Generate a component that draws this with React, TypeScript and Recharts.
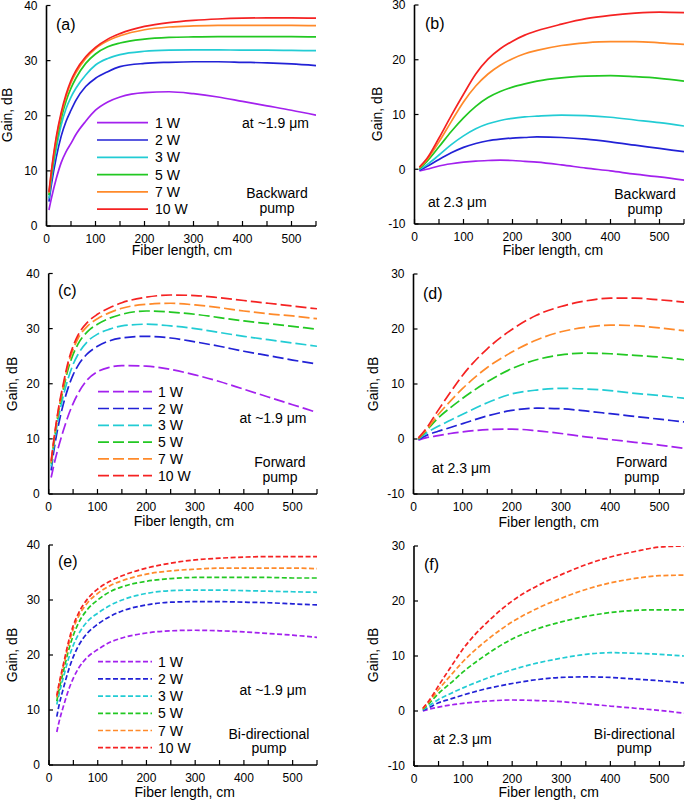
import React from 'react';
import { LineChart, Line, XAxis, YAxis, Customized } from 'recharts';

const FONT = "'Liberation Sans', Arial, sans-serif";

const seriesLabels = ['1 W', '2 W', '3 W', '5 W', '7 W', '10 W'];
const seriesColors = ['#a321ee', '#2222d6', '#22ccd4', '#22c822', '#ff8a2a', '#f52222'];
const xTicks = [0, 50, 100, 150, 200, 250, 300, 350, 400, 450, 500, 550];
const xTickLabels = [0, 100, 200, 300, 400, 500];
const gainTicksHigh = [0, 10, 20, 30, 40];
const gainTicksLow = [-10, 0, 10, 20, 30];

// (a) backward pump, ~1.9 um
const aX = [5, 10, 20, 30, 40, 50, 60, 80, 100, 125, 150, 200, 250, 300, 350, 400, 450, 500, 550];
const a1 = [2.9, 5, 8.6, 11.5, 13.5, 15, 16.6, 19, 21, 22.5, 23.4, 24.2, 24.35, 24, 23.4, 22.6, 21.8, 21, 20.1];
const a2 = [4.4, 7.5, 12.5, 16.3, 19, 21, 22.8, 25.3, 26.8, 28, 28.9, 29.5, 29.7, 29.8, 29.8, 29.7, 29.6, 29.4, 29.1];
const a3 = [5, 8.5, 14, 18.3, 21.3, 23.4, 25, 27.4, 29.2, 30.4, 31.1, 31.7, 31.9, 31.95, 31.95, 31.9, 31.9, 31.85, 31.8];
const a5 = [5.6, 9.2, 15, 19.5, 22.7, 25, 26.8, 29.5, 31.2, 32.5, 33.2, 33.9, 34.2, 34.3, 34.35, 34.35, 34.35, 34.35, 34.3];
const a7 = [6, 9.8, 15.8, 20.2, 23.5, 26, 27.8, 30.4, 32.2, 33.6, 34.5, 35.6, 36.1, 36.3, 36.4, 36.4, 36.4, 36.4, 36.35];
const a10 = [6.2, 10, 16.2, 20.6, 23.9, 26.4, 28.2, 30.7, 32.4, 33.9, 34.9, 36.2, 36.9, 37.3, 37.55, 37.7, 37.75, 37.75, 37.7];

// (b) backward pump, 2.3 um
const bX = [10, 25, 50, 75, 100, 125, 150, 175, 200, 225, 250, 300, 350, 400, 450, 500, 550];
const b1 = [-0.3, 0, 0.6, 1, 1.3, 1.5, 1.6, 1.65, 1.6, 1.45, 1.3, 0.8, 0.2, -0.3, -0.9, -1.4, -2.0];
const b2 = [-0.2, 0.5, 1.8, 3, 4, 4.7, 5.2, 5.5, 5.7, 5.8, 5.9, 5.8, 5.5, 5, 4.4, 3.8, 3.2];
const b3 = [0, 0.8, 2.6, 4.5, 6.1, 7.4, 8.3, 8.9, 9.3, 9.55, 9.7, 9.9, 9.8, 9.5, 9, 8.5, 7.9];
const b5 = [0.1, 1.4, 4.1, 6.9, 9.4, 11.5, 13.1, 14.2, 15, 15.6, 16.1, 16.7, 17, 17.1, 16.9, 16.6, 16.1];
const b7 = [0.3, 1.7, 5, 8.7, 12.3, 15.2, 17.4, 19, 20.2, 21.1, 21.7, 22.6, 23.1, 23.3, 23.3, 23.1, 22.8];
const b10 = [0.4, 1.9, 5.7, 9.8, 13.7, 17.4, 20.1, 22, 23.4, 24.5, 25.3, 26.5, 27.5, 28.1, 28.5, 28.7, 28.6];

// (c) forward pump, ~1.9 um
const cX = [5, 10, 20, 30, 40, 50, 60, 80, 100, 125, 150, 200, 250, 300, 350, 400, 450, 500, 550];
const c1 = [3, 5, 8.5, 11.5, 14.2, 16.4, 18.2, 20.8, 22.2, 23, 23.3, 23.2, 22.6, 21.6, 20.4, 19, 17.6, 16.2, 14.8];
const c2 = [4.3, 7.5, 12.5, 16.3, 19.3, 21.6, 23.3, 25.5, 26.8, 27.8, 28.3, 28.6, 28.3, 27.6, 26.8, 25.9, 25.1, 24.3, 23.6];
const c3 = [5, 8.5, 13.8, 17.8, 21, 23.5, 25.3, 27.7, 29, 29.9, 30.5, 30.8, 30.5, 30, 29.3, 28.6, 28, 27.4, 26.8];
const c5 = [5.5, 9, 14.8, 19, 22.7, 25.3, 27.2, 29.5, 30.8, 31.9, 32.6, 33.2, 33, 32.6, 32, 31.4, 30.9, 30.4, 29.9];
const c7 = [5.7, 9.3, 15.2, 19.6, 23.5, 26.2, 28.2, 30.5, 31.8, 32.9, 33.7, 34.4, 34.6, 34.3, 33.8, 33.2, 32.7, 32.3, 31.8];
const c10 = [6, 9.5, 15.5, 20, 24, 26.8, 28.8, 31.2, 32.6, 33.8, 34.7, 35.7, 36.1, 36, 35.6, 35.1, 34.6, 34.1, 33.6];

// (d) forward pump, 2.3 um
const dX = [10, 25, 50, 75, 100, 150, 200, 250, 300, 350, 400, 450, 500, 550];
const d1 = [-0.2, 0.2, 0.6, 1, 1.3, 1.7, 1.8, 1.5, 1, 0.4, -0.1, -0.6, -1.1, -1.7];
const d2 = [-0.1, 0.6, 1.4, 2.1, 2.8, 4.2, 5.2, 5.6, 5.5, 5.1, 4.6, 4.1, 3.6, 3.1];
const d3 = [0, 1, 2.3, 3.4, 4.5, 6.6, 8.2, 8.9, 9.2, 9.1, 8.8, 8.3, 7.9, 7.4];
const d5 = [0, 1.4, 3.8, 5.7, 7.4, 10.4, 12.8, 14.4, 15.3, 15.6, 15.5, 15.2, 14.9, 14.4];
const d7 = [0.1, 1.5, 4.4, 6.9, 9.2, 13, 15.8, 18, 19.5, 20.3, 20.7, 20.6, 20.2, 19.7];
const d10 = [0.2, 1.8, 5.2, 8.5, 11.6, 16.4, 19.9, 22.5, 24.1, 25.1, 25.6, 25.6, 25.3, 24.9];

// (e) bi-directional pump, ~1.9 um
const eX = [16, 20, 30, 40, 50, 60, 80, 100, 125, 150, 200, 250, 300, 350, 400, 450, 500, 550];
const e1 = [6, 7.6, 10.8, 13.6, 15.8, 17.5, 19.7, 21, 22.3, 23.1, 24, 24.4, 24.5, 24.4, 24.2, 23.9, 23.6, 23.2];
const e2 = [8.8, 10.6, 14.1, 17.2, 19.7, 21.6, 24.1, 25.6, 27, 28, 29.1, 29.6, 29.7, 29.7, 29.6, 29.5, 29.3, 29.1];
const e3 = [11, 12.6, 16.1, 19.3, 21.8, 23.7, 26.2, 27.6, 29, 30, 31.2, 31.7, 31.8, 31.8, 31.7, 31.6, 31.5, 31.4];
const e5 = [11.6, 13.4, 17.2, 20.8, 23.6, 25.7, 28.4, 30, 31.5, 32.4, 33.4, 33.9, 34.1, 34.1, 34.1, 34.1, 34, 34];
const e7 = [12.3, 14.2, 18.1, 21.8, 24.8, 26.9, 29.6, 31.2, 32.6, 33.5, 34.7, 35.3, 35.6, 35.8, 35.8, 35.8, 35.8, 35.7];
const e10 = [12.6, 14.5, 18.5, 22.4, 25.4, 27.5, 30.3, 32, 33.4, 34.4, 35.8, 36.7, 37.3, 37.6, 37.8, 37.9, 37.9, 37.9];

// (f) bi-directional pump, 2.3 um
const fX = [18, 30, 50, 75, 100, 150, 200, 250, 300, 350, 400, 450, 500, 550];
const f1 = [0, 0.3, 0.7, 1.1, 1.4, 1.8, 2, 1.9, 1.7, 1.3, 0.9, 0.5, 0.1, -0.4];
const f2 = [0.1, 0.6, 1.5, 2.2, 2.9, 4.1, 5, 5.7, 6.1, 6.2, 6.1, 5.8, 5.5, 5.1];
const f3 = [0.2, 0.9, 2.1, 3.2, 4.2, 6, 7.5, 8.7, 9.6, 10.3, 10.6, 10.5, 10.3, 10];
const f5 = [0.3, 1.3, 3.2, 5.1, 7.1, 10.4, 13.1, 14.9, 16.2, 17.2, 17.9, 18.3, 18.4, 18.4];
const f7 = [0.4, 1.6, 3.9, 6.5, 9, 13, 16.2, 18.6, 20.5, 22.1, 23.3, 24.1, 24.6, 24.7];
const f10 = [0.5, 1.8, 4.6, 8, 11.3, 16.2, 20, 22.7, 24.8, 26.6, 28, 29, 29.8, 30];

type Note = { text: string; x: number; y: number; anchor: 'start' | 'middle' | 'end'; size?: number };

type Panel = {
  xs: number[];
  ys: number[][];
  ox: number; oy: number; w: number; h: number;
  L: number; T: number; R: number; B: number;
  yDomain: [number, number];
  yTicks: number[];
  dash?: string;
  legend?: { x1: number; x2: number; tx: number; y0: number; dy: number };
  xLabel: { x: number; y: number };
  yLabel: { x: number; y: number };
  notes: Note[];
};

const panels: Panel[] = [
  {
    xs: aX, ys: [a1, a2, a3, a5, a7, a10],
    ox: 0, oy: 0, w: 340, h: 265, L: 46.5, T: 5.5, R: 316, B: 226,
    yDomain: [0, 40], yTicks: gainTicksHigh,
    legend: { x1: 97, x2: 148, tx: 155, y0: 122.7, dy: 17.3 },
    xLabel: { x: 182, y: 250 }, yLabel: { x: 6.5, y: 115 },
    notes: [
      { text: '(a)', x: 56, y: 24, anchor: 'start', size: 16 },
      { text: 'at ~1.9 μm', x: 275.5, y: 122.7, anchor: 'middle' },
      { text: 'Backward', x: 277, y: 193, anchor: 'middle' },
      { text: 'pump', x: 277, y: 208, anchor: 'middle' },
    ],
  },
  {
    xs: bX, ys: [b1, b2, b3, b5, b7, b10],
    ox: 345, oy: 0, w: 340, h: 265, L: 414.5, T: 5, R: 684, B: 224,
    yDomain: [-10, 30], yTicks: gainTicksLow,
    xLabel: { x: 553, y: 250 }, yLabel: { x: 377, y: 114 },
    notes: [
      { text: '(b)', x: 425, y: 23, anchor: 'start', size: 16 },
      { text: 'at 2.3 μm', x: 428, y: 201.7, anchor: 'start' },
      { text: 'Backward', x: 645, y: 194, anchor: 'middle' },
      { text: 'pump', x: 645, y: 209, anchor: 'middle' },
    ],
  },
  {
    xs: cX, ys: [c1, c2, c3, c5, c7, c10],
    ox: 0, oy: 265, w: 340, h: 270, L: 48.7, T: 273.5, R: 317, B: 494,
    yDomain: [0, 40], yTicks: gainTicksHigh, dash: '11 4',
    legend: { x1: 98, x2: 152, tx: 158, y0: 391.7, dy: 16.8 },
    xLabel: { x: 184, y: 521 }, yLabel: { x: 12, y: 384 },
    notes: [
      { text: '(c)', x: 58, y: 290, anchor: 'start', size: 16 },
      { text: 'at ~1.9 μm', x: 273, y: 417.7, anchor: 'middle' },
      { text: 'Forward', x: 280, y: 461.7, anchor: 'middle' },
      { text: 'pump', x: 280, y: 476.7, anchor: 'middle' },
    ],
  },
  {
    xs: dX, ys: [d1, d2, d3, d5, d7, d10],
    ox: 345, oy: 265, w: 340, h: 270, L: 413.5, T: 274, R: 684, B: 494,
    yDomain: [-10, 30], yTicks: gainTicksLow, dash: '11 4',
    xLabel: { x: 548.7, y: 521.5 }, yLabel: { x: 373, y: 384 },
    notes: [
      { text: '(d)', x: 423, y: 293, anchor: 'start', size: 16 },
      { text: 'at 2.3 μm', x: 432, y: 467.7, anchor: 'start' },
      { text: 'Forward', x: 641.7, y: 462.3, anchor: 'middle' },
      { text: 'pump', x: 641.7, y: 476.7, anchor: 'middle' },
    ],
  },
  {
    xs: eX, ys: [e1, e2, e3, e5, e7, e10],
    ox: 0, oy: 535, w: 340, h: 265, L: 49, T: 545, R: 317, B: 765,
    yDomain: [0, 40], yTicks: gainTicksHigh, dash: '5 2.5',
    legend: { x1: 98, x2: 152, tx: 158, y0: 661.7, dy: 17.2 },
    xLabel: { x: 184.7, y: 791.5 }, yLabel: { x: 12, y: 655 },
    notes: [
      { text: '(e)', x: 58, y: 561.7, anchor: 'start', size: 16 },
      { text: 'at ~1.9 μm', x: 273, y: 690, anchor: 'middle' },
      { text: 'Bi-directional', x: 269, y: 734.3, anchor: 'middle' },
      { text: 'pump', x: 269, y: 748.3, anchor: 'middle' },
    ],
  },
  {
    xs: fX, ys: [f1, f2, f3, f5, f7, f10],
    ox: 345, oy: 535, w: 340, h: 265, L: 414, T: 546, R: 684, B: 766,
    yDomain: [-10, 30], yTicks: gainTicksLow, dash: '5 2.5',
    xLabel: { x: 548.7, y: 791.5 }, yLabel: { x: 373, y: 655 },
    notes: [
      { text: '(f)', x: 424, y: 564, anchor: 'start', size: 16 },
      { text: 'at 2.3 μm', x: 433, y: 739, anchor: 'start' },
      { text: 'Bi-directional', x: 634.3, y: 734.3, anchor: 'middle' },
      { text: 'pump', x: 634.3, y: 748.3, anchor: 'middle' },
    ],
  },
];

const keys = ['s0', 's1', 's2', 's3', 's4', 's5'];

function buildRows(p: Panel) {
  return p.xs.map((xv, i) => {
    const row: Record<string, number> = { x: xv };
    p.ys.forEach((arr, k) => {
      row[keys[k]] = arr[i];
    });
    return row;
  });
}

function Overlay({ p }: { p: Panel }) {
  const lx = (v: number) => v - p.ox;
  const ly = (v: number) => v - p.oy;
  return (
    <g fontFamily={FONT} fill="#000">
      <text x={lx(p.xLabel.x)} y={ly(p.xLabel.y)} textAnchor="middle" dominantBaseline="central" fontSize={14}>
        Fiber length, cm
      </text>
      <text
        x={lx(p.yLabel.x)}
        y={ly(p.yLabel.y)}
        textAnchor="middle"
        dominantBaseline="central"
        fontSize={14}
        transform={`rotate(-90 ${lx(p.yLabel.x)} ${ly(p.yLabel.y)})`}
      >
        Gain, dB
      </text>
      {p.notes.map((n, i) => (
        <text key={i} x={lx(n.x)} y={ly(n.y)} textAnchor={n.anchor} dominantBaseline="central" fontSize={n.size || 14}>
          {n.text}
        </text>
      ))}
      {p.legend &&
        seriesLabels.map((lab, i) => {
          const lg = p.legend!;
          const yy = ly(lg.y0 + i * lg.dy);
          return (
            <g key={lab}>
              <line
                x1={lx(lg.x1)}
                x2={lx(lg.x2)}
                y1={yy}
                y2={yy}
                stroke={seriesColors[i]}
                strokeWidth={1.7}
                strokeDasharray={p.dash}
              />
              <text x={lx(lg.tx)} y={yy} dominantBaseline="central" fontSize={14}>
                {lab}
              </text>
            </g>
          );
        })}
    </g>
  );
}

function PanelChart({ p }: { p: Panel }) {
  const rows = buildRows(p);
  const axisLine = { stroke: '#000', strokeWidth: 1.6 };
  const tickLine = { stroke: '#000', strokeWidth: 1.2 };
  return (
    <div style={{ position: 'absolute', left: p.ox, top: p.oy, width: p.w, height: p.h }}>
      <LineChart
        width={p.w}
        height={p.h}
        data={rows}
        margin={{ top: p.T - p.oy, right: p.ox + p.w - p.R, left: 0, bottom: 0 }}
      >
        <XAxis
          dataKey="x"
          type="number"
          domain={[0, 550]}
          ticks={xTicks}
          interval={0}
          allowDataOverflow
          tickFormatter={(v: number) => (xTickLabels.includes(v) ? String(v) : '')}
          height={p.oy + p.h - p.B}
          tickSize={-5}
          tickMargin={13.5}
          axisLine={axisLine}
          tickLine={tickLine}
          tick={{ fill: '#000', fontSize: 12, fontFamily: FONT }}
        />
        <YAxis
          type="number"
          domain={p.yDomain}
          ticks={p.yTicks}
          interval={0}
          allowDataOverflow
          width={p.L - p.ox}
          tickLine={tickLine}
          tickSize={-4}
          tickMargin={13}
          axisLine={axisLine}
          tick={{ fill: '#000', fontSize: 12, fontFamily: FONT }}
        />
        <XAxis
          xAxisId="top"
          orientation="top"
          type="number"
          domain={[0, 550]}
          height={0}
          tick={false}
          tickLine={false}
          axisLine={axisLine}
        />
        <YAxis
          yAxisId="right"
          orientation="right"
          type="number"
          domain={p.yDomain}
          width={0}
          tick={false}
          tickLine={false}
          axisLine={axisLine}
        />
        {keys.map((k, i) => (
          <Line
            key={k}
            dataKey={k}
            type="monotone"
            stroke={seriesColors[i]}
            strokeWidth={1.7}
            strokeDasharray={p.dash}
            dot={false}
            activeDot={false}
            isAnimationActive={false}
          />
        ))}
        <Customized component={() => <Overlay p={p} />} />
      </LineChart>
    </div>
  );
}

export default function App() {
  return (
    <div style={{ position: 'absolute', left: 0, top: 0, width: 685, height: 800, background: '#fff' }}>
      {panels.map((p, i) => (
        <PanelChart key={i} p={p} />
      ))}
    </div>
  );
}
